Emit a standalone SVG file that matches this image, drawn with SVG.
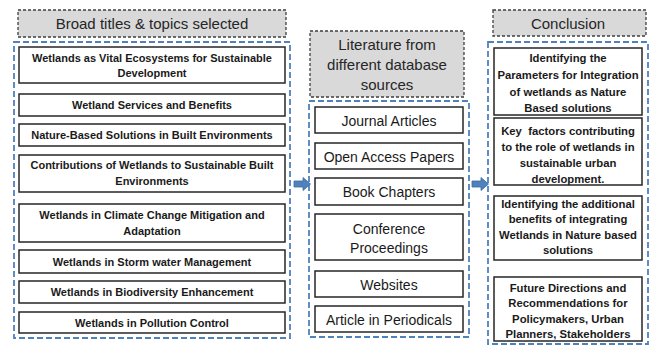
<svg xmlns="http://www.w3.org/2000/svg" width="656" height="347" viewBox="0 0 656 347">
  <style>
    .hdr { fill: #d9d9d9; stroke: #3f3f3f; stroke-width: 1.3; stroke-dasharray: 3 2; }
    .grp { fill: none; stroke: #4f81bd; stroke-width: 1.8; stroke-dasharray: 6 3; }
    .box { fill: #ffffff; stroke: #262626; stroke-width: 1.5; }
    .ht { font-family: "Liberation Sans", Arial, sans-serif; font-size: 15px; fill: #262626; text-anchor: middle; dominant-baseline: central; }
    .lt { font-family: "Liberation Sans", Arial, sans-serif; font-size: 11px; font-weight: bold; fill: #1a1a1a; text-anchor: middle; dominant-baseline: central; }
    .mt { font-family: "Liberation Sans", Arial, sans-serif; font-size: 14px; fill: #1a1a1a; text-anchor: middle; dominant-baseline: central; }
    .rt { font-family: "Liberation Sans", Arial, sans-serif; font-size: 11.3px; font-weight: bold; fill: #1a1a1a; text-anchor: middle; dominant-baseline: central; }
    .arr { fill: #4f81bd; stroke: #3a6a9f; stroke-width: 0.8; }
  </style>
  <rect width="656" height="347" fill="#ffffff"/>

  <!-- Column 1: topics -->
  <g id="topics-header">
    <rect class="hdr" x="18" y="10" width="268" height="27"/>
    <text class="ht" x="152" y="23.5">Broad titles &amp; topics selected</text>
  </g>
  <g id="topics-group">
    <rect class="grp" x="14" y="42" width="276" height="296"/>
  </g>
  <g id="topic-1">
    <rect class="box" x="19" y="47" width="266" height="36"/>
    <text class="lt" x="152" y="57.5">Wetlands as Vital Ecosystems for Sustainable</text>
    <text class="lt" x="152" y="73">Development</text>
  </g>
  <g id="topic-2">
    <rect class="box" x="19" y="94" width="266" height="22"/>
    <text class="lt" x="152" y="105">Wetland Services and Benefits</text>
  </g>
  <g id="topic-3">
    <rect class="box" x="19" y="124" width="266" height="22"/>
    <text class="lt" x="152" y="135">Nature-Based Solutions in Built Environments</text>
  </g>
  <g id="topic-4">
    <rect class="box" x="19" y="155" width="266" height="37"/>
    <text class="lt" x="152" y="164.5">Contributions of Wetlands to Sustainable Built</text>
    <text class="lt" x="152" y="181">Environments</text>
  </g>
  <g id="topic-5">
    <rect class="box" x="19" y="204" width="266" height="38"/>
    <text class="lt" x="152" y="214.5">Wetlands in Climate Change Mitigation and</text>
    <text class="lt" x="152" y="231">Adaptation</text>
  </g>
  <g id="topic-6">
    <rect class="box" x="19" y="250" width="266" height="23"/>
    <text class="lt" x="152" y="261.5">Wetlands in Storm water Management</text>
  </g>
  <g id="topic-7">
    <rect class="box" x="19" y="281" width="266" height="22"/>
    <text class="lt" x="152" y="292">Wetlands in Biodiversity Enhancement</text>
  </g>
  <g id="topic-8">
    <rect class="box" x="19" y="312" width="266" height="21"/>
    <text class="lt" x="152" y="322.5">Wetlands in Pollution Control</text>
  </g>

  <!-- Column 2: literature sources -->
  <g id="sources-header">
    <rect class="hdr" x="310" y="31" width="154" height="66"/>
    <text class="ht" x="387" y="44">Literature from</text>
    <text class="ht" x="387" y="64">different database</text>
    <text class="ht" x="387" y="84">sources</text>
  </g>
  <g id="sources-group">
    <rect class="grp" x="309" y="101" width="160" height="236"/>
  </g>
  <g id="source-1">
    <rect class="box" x="315" y="107" width="148" height="26"/>
    <text class="mt" x="389" y="120.5">Journal Articles</text>
  </g>
  <g id="source-2">
    <rect class="box" x="315" y="143" width="148" height="26"/>
    <text class="mt" x="389" y="156.5">Open Access Papers</text>
  </g>
  <g id="source-3">
    <rect class="box" x="315" y="178" width="148" height="27"/>
    <text class="mt" x="389" y="192">Book Chapters</text>
  </g>
  <g id="source-4">
    <rect class="box" x="315" y="214" width="148" height="46"/>
    <text class="mt" x="389" y="228.5">Conference</text>
    <text class="mt" x="389" y="247.5">Proceedings</text>
  </g>
  <g id="source-5">
    <rect class="box" x="315" y="271" width="148" height="26"/>
    <text class="mt" x="389" y="284.5">Websites</text>
  </g>
  <g id="source-6">
    <rect class="box" x="315" y="306" width="148" height="26"/>
    <text class="mt" x="389" y="319.5">Article in Periodicals</text>
  </g>

  <!-- Column 3: conclusion -->
  <g id="conclusion-header">
    <rect class="hdr" x="493" y="10" width="153" height="26"/>
    <text class="ht" x="568" y="23">Conclusion</text>
  </g>
  <g id="conclusion-group">
    <rect class="grp" x="488" y="42" width="160" height="302"/>
  </g>
  <g id="conclusion-1">
    <rect class="box" x="494" y="48" width="148" height="67"/>
    <text class="rt" x="568" y="58">Identifying the</text>
    <text class="rt" x="568" y="75">Parameters for Integration</text>
    <text class="rt" x="568" y="91.5">of wetlands as Nature</text>
    <text class="rt" x="568" y="108">Based solutions</text>
  </g>
  <g id="conclusion-2">
    <rect class="box" x="494" y="118" width="148" height="67"/>
    <text class="rt" x="568" y="130.5" xml:space="preserve">Key  factors contributing</text>
    <text class="rt" x="568" y="147">to the role of wetlands in</text>
    <text class="rt" x="568" y="163">sustainable urban</text>
    <text class="rt" x="568" y="178.5">development.</text>
  </g>
  <g id="conclusion-3">
    <rect class="box" x="494" y="196" width="148" height="64"/>
    <text class="rt" x="568" y="203.5">Identifying the additional</text>
    <text class="rt" x="568" y="219">benefits of integrating</text>
    <text class="rt" x="568" y="234.5">Wetlands in Nature based</text>
    <text class="rt" x="568" y="250">solutions</text>
  </g>
  <g id="conclusion-4">
    <rect class="box" x="494" y="277" width="148" height="64"/>
    <text class="rt" x="568" y="287.5">Future Directions and</text>
    <text class="rt" x="568" y="303">Recommendations for</text>
    <text class="rt" x="568" y="318.5">Policymakers, Urban</text>
    <text class="rt" x="568" y="334">Planners, Stakeholders</text>
  </g>

  <!-- Connectors: block arrows between columns -->
  <g id="connectors">
    <path class="arr" d="M294,181 H303 V177.5 L310.5,184 L303,190.5 V187 H294 Z"/>
    <path class="arr" d="M472,181 H481 V177.5 L488.5,184 L481,190.5 V187 H472 Z"/>
  </g>
</svg>
